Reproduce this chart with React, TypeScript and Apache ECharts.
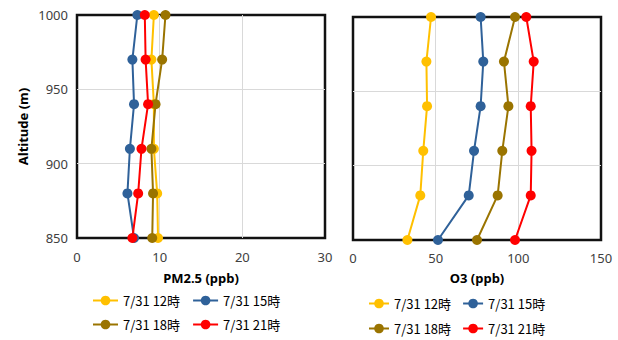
import React, { useEffect, useRef } from "react";
import * as echarts from "echarts";

const altitudes = [1000, 970, 940, 910, 880, 850];
const seriesNames = ["7/31 12時", "7/31 15時", "7/31 18時", "7/31 21時"];
const colors = ["#FFC000", "#2F6199", "#9A7400", "#FF0000"];

const pm25_12 = [9.3, 9.0, 9.3, 9.3, 9.7, 9.8];
const pm25_15 = [7.3, 6.7, 6.9, 6.4, 6.1, 6.9];
const pm25_18 = [10.7, 10.3, 9.5, 9.0, 9.2, 9.1];
const pm25_21 = [8.2, 8.3, 8.6, 7.8, 7.4, 6.7];

const o3_12 = [47.2, 44.4, 44.8, 42.5, 40.7, 32.9];
const o3_15 = [77.2, 78.8, 77.2, 73.2, 70.0, 51.4];
const o3_18 = [98.0, 91.3, 94.0, 90.3, 87.5, 75.0];
const o3_21 = [104.8, 109.3, 107.5, 108.0, 107.5, 98.0];

const pmTicks = { min: 0, max: 30, interval: 10 };
const o3Ticks = { min: 0, max: 150, interval: 50 };
const altTicks = { min: 850, max: 1000, interval: 50 };

const FONT = "'Noto Sans', 'Liberation Sans', sans-serif";
const CJK = "'Noto Sans CJK JP', 'Noto Sans', sans-serif";

export default function App() {
  const ref = useRef<HTMLDivElement>(null);
  useEffect(() => {
    if (!ref.current) return;
    const chart = echarts.init(ref.current, undefined, { renderer: "svg" });
    const pmData = [pm25_12, pm25_15, pm25_18, pm25_21];
    const o3Data = [o3_12, o3_15, o3_18, o3_21];
    const mk = (vals: number[], i: number, idx: number) => ({
      type: "line",
      name: seriesNames[i],
      xAxisIndex: idx,
      yAxisIndex: idx,
      data: vals.map((v, k) => [v, altitudes[k]]),
      symbol: "circle",
      symbolSize: 10,
      z: 5,
      lineStyle: { width: 2, color: colors[i] },
      itemStyle: { color: colors[i] },
      color: colors[i],
    });
    const series: any[] = [];
    pmData.forEach((d, i) => series.push(mk(d, i, 0)));
    o3Data.forEach((d, i) => series.push(mk(d, i, 1)));

    const gridLine = { show: true, showMinLine: false, showMaxLine: false, lineStyle: { color: "#D9D9D9", width: 1 } };
    const axisLabel = { color: "#404040", fontSize: 13, fontFamily: FONT, formatter: (v: number) => String(v) };
    const nameStyle = { color: "#000", fontSize: 13, fontWeight: "bold", fontFamily: FONT };
    const legendBase = {
      orient: "horizontal",
      itemHeight: 12,
      padding: 0,
      textStyle: { color: "#000", fontSize: 13, fontFamily: CJK },
    };
    const box = { show: true, borderColor: "#111", borderWidth: 2.5, backgroundColor: "transparent" };

    chart.setOption({
      animation: false,
      backgroundColor: "#fff",
      grid: [
        { left: 77, top: 15, width: 248, height: 223, ...box },
        { left: 353, top: 17, width: 248, height: 223, ...box },
      ],
      xAxis: [
        {
          type: "value", gridIndex: 0, ...pmTicks,
          axisLine: { show: false }, axisTick: { show: false },
          splitLine: gridLine, axisLabel: { ...axisLabel, margin: 12 },
          name: "PM2.5 (ppb)", nameLocation: "middle", nameGap: 33, nameTextStyle: nameStyle,
        },
        {
          type: "value", gridIndex: 1, ...o3Ticks,
          axisLine: { show: false }, axisTick: { show: false },
          splitLine: gridLine, axisLabel: { ...axisLabel, margin: 11 },
          name: "O3 (ppb)", nameLocation: "middle", nameGap: 31, nameTextStyle: nameStyle,
        },
      ],
      yAxis: [
        {
          type: "value", gridIndex: 0, ...altTicks,
          axisLine: { show: false }, axisTick: { show: false },
          splitLine: gridLine, axisLabel: { ...axisLabel, margin: 9 },
          name: "Altitude (m)", nameLocation: "middle", nameGap: 48, nameRotate: 90, nameTextStyle: nameStyle,
        },
        {
          type: "value", gridIndex: 1, ...altTicks,
          axisLine: { show: false }, axisTick: { show: false },
          splitLine: gridLine, axisLabel: { show: false },
        },
      ],
      legend: [
        { ...legendBase, data: [seriesNames[0], seriesNames[1]], left: 92, top: 294, itemWidth: 25, itemGap: 12 },
        { ...legendBase, data: [seriesNames[2], seriesNames[3]], left: 92, top: 318, itemWidth: 25, itemGap: 12 },
        { ...legendBase, data: [seriesNames[0], seriesNames[1]], left: 368, top: 297, itemWidth: 20, itemGap: 11 },
        { ...legendBase, data: [seriesNames[2], seriesNames[3]], left: 368, top: 322, itemWidth: 20, itemGap: 11 },
      ],
      series,
    });
    return () => chart.dispose();
  }, []);
  return (
    <div
      ref={ref}
      style={{ position: "fixed", left: 0, top: 0, width: 618, height: 340, background: "#fff" }}
    />
  );
}
